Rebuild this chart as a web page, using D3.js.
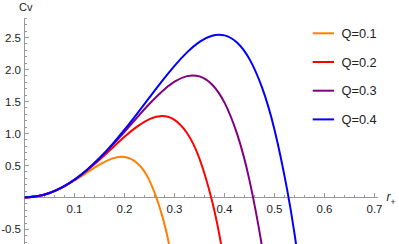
<!DOCTYPE html>
<html>
<head>
<meta charset="utf-8">
<script src="https://cdn.jsdelivr.net/npm/d3@7"></script>
<style>
    body { margin: 0; background: #fff; }
    svg { display: block; font-family: "Liberation Sans", Arial, sans-serif; }
    .tick-label { font-size: 11.5px; fill: #222; }
    .legend text { font-size: 12.8px; fill: #222; }
</style>
</head>
<body>
<svg class="chart" width="399" height="244"></svg>
<script>

// Values
const q01R  = [0, 0.025, 0.05, 0.075, 0.1, 0.125, 0.15, 0.175, 0.2, 0.225, 0.25, 0.275, 0.29, 0.3];
const q01Cv = [0, 0.0175, 0.0695, 0.154, 0.265, 0.391, 0.514, 0.608, 0.633, 0.540, 0.264, -0.276, -0.767, -1.18];

const q02R  = [0, 0.025, 0.05, 0.075, 0.1, 0.125, 0.15, 0.175, 0.2, 0.225, 0.25, 0.275, 0.3, 0.325, 0.35, 0.375, 0.39, 0.4];
const q02Cv = [0, 0.0175, 0.0698, 0.156, 0.275, 0.421, 0.589, 0.769, 0.948, 1.107, 1.225, 1.272, 1.213, 1.007, 0.605, -0.051, -0.594, -1.028];

const q03R  = [0, 0.025, 0.05, 0.075, 0.1, 0.125, 0.15, 0.175, 0.2, 0.225, 0.25, 0.275, 0.3, 0.325, 0.35, 0.375, 0.4, 0.425, 0.45, 0.475, 0.49];
const q03Cv = [0, 0.0175, 0.0699, 0.157, 0.277, 0.429, 0.608, 0.810, 1.026, 1.249, 1.464, 1.657, 1.809, 1.896, 1.892, 1.766, 1.482, 0.997, 0.267, -0.763, -1.548];

const q04R  = [0, 0.025, 0.05, 0.075, 0.1, 0.125, 0.15, 0.175, 0.2, 0.225, 0.25, 0.275, 0.3, 0.325, 0.35, 0.375, 0.4, 0.425, 0.45, 0.475, 0.5, 0.525, 0.54, 0.55];
const q04Cv = [0, 0.0175, 0.0699, 0.157, 0.278, 0.432, 0.616, 0.826, 1.059, 1.308, 1.564, 1.819, 2.058, 2.268, 2.432, 2.528, 2.533, 2.422, 2.162, 1.720, 1.059, 0.134, -0.564, -1.099];

const seriesNames  = ['Q=0.1', 'Q=0.2', 'Q=0.3', 'Q=0.4'];
const seriesColors = ['#ff8000', '#ff0000', '#800080', '#0000ff'];

const xTicks = [0.1, 0.2, 0.3, 0.4, 0.5, 0.6, 0.7];
const yTicks = [-0.5, 0.5, 1.0, 1.5, 2.0, 2.5];

const series = [
    { r: q01R, cv: q01Cv },
    { r: q02R, cv: q02Cv },
    { r: q03R, cv: q03Cv },
    { r: q04R, cv: q04Cv }
];

const AXIS_COLOR = '#999';

var svg = d3.select('svg.chart');

var x = d3.scaleLinear().domain([0, 0.707]).range([24.5, 378]);
var y = d3.scaleLinear().domain([-0.727, 2.8]).range([244, 18.3]);

svg.append('clipPath').attr('id', 'plot-clip')
    .append('rect')
        .attr('x', x(0)).attr('y', y(2.8))
        .attr('width', x(0.707) - x(0))
        .attr('height', y(-0.727) - y(2.8));

// minor ticks every 0.02 on x, 0.1 on y
var xMinor = d3.range(1, 36).map(i => i * 0.02).filter(v => v < 0.707);
var yMinor = d3.range(-7, 29).map(i => i / 10).filter(v => Math.abs(v) > 1e-9);

var axes = svg.append('g').attr('stroke', AXIS_COLOR).attr('stroke-width', 1).attr('shape-rendering', 'crispEdges');

axes.append('line')
    .attr('x1', x(0)).attr('x2', x(0.707))
    .attr('y1', y(0)).attr('y2', y(0));
axes.append('line')
    .attr('x1', x(0)).attr('x2', x(0))
    .attr('y1', y(2.8)).attr('y2', y(-0.727));

axes.selectAll('line.xminor')
    .data(xMinor)
    .enter().append('line')
        .attr('class', 'xminor')
        .attr('x1', d => x(d)).attr('x2', d => x(d))
        .attr('y1', y(0)).attr('y2', d => {
            var isMajor = Math.abs(d * 10 - Math.round(d * 10)) < 1e-6;
            return y(0) - (isMajor ? 4.5 : 2.5);
        });

axes.selectAll('line.yminor')
    .data(yMinor)
    .enter().append('line')
        .attr('class', 'yminor')
        .attr('y1', d => y(d)).attr('y2', d => y(d))
        .attr('x1', x(0)).attr('x2', d => {
            var isMajor = Math.abs(d * 2 - Math.round(d * 2)) < 1e-6;
            return x(0) + (isMajor ? 4.5 : 2.5);
        });

svg.selectAll('text.xlabel')
    .data(xTicks)
    .enter().append('text')
        .attr('class', 'tick-label xlabel')
        .attr('x', d => x(d))
        .attr('y', y(0) + 16)
        .attr('text-anchor', 'middle')
        .text(d => d.toFixed(1));

svg.selectAll('text.ylabel')
    .data(yTicks)
    .enter().append('text')
        .attr('class', 'tick-label ylabel')
        .attr('x', 21)
        .attr('y', d => y(d))
        .attr('dy', '0.35em')
        .attr('text-anchor', 'end')
        .text(d => d.toFixed(1));

// axis labels
svg.append('text')
    .attr('x', 19).attr('y', 10.5)
    .style('font-size', '11px').style('fill', '#222')
    .text('Cv');

var rLabel = svg.append('text')
    .attr('x', 386.5).attr('y', 200.5)
    .style('font-size', '12px').style('fill', '#222');
rLabel.append('tspan').style('font-style', 'italic').text('r');
rLabel.append('tspan').attr('dy', 4).style('font-size', '8.5px').text('+');

// curves
var line = d3.line()
    .x(d => x(d[0]))
    .y(d => y(d[1]))
    .curve(d3.curveNatural);

svg.append('g').attr('clip-path', 'url(#plot-clip)')
    .selectAll('path')
    .data(series)
    .enter().append('path')
        .attr('fill', 'none')
        .attr('stroke', (s, i) => seriesColors[i])
        .attr('stroke-width', 2)
        .attr('d', s => line(s.r.map((r, i) => [r, s.cv[i]])));

// legend
var legend = svg.append('g').attr('class', 'legend');
var rows = legend.selectAll('g')
    .data(seriesNames)
    .enter().append('g')
        .attr('transform', (d, i) => 'translate(0,' + (33.3 + i * 28.7) + ')');

rows.append('line')
    .attr('x1', 312.7).attr('x2', 334)
    .attr('y1', 0).attr('y2', 0)
    .attr('stroke', (d, i) => seriesColors[i])
    .attr('stroke-width', 2);

rows.append('text')
    .attr('x', 341.5)
    .attr('dy', '0.36em')
    .text(d => d);

</script>
</body>
</html>
